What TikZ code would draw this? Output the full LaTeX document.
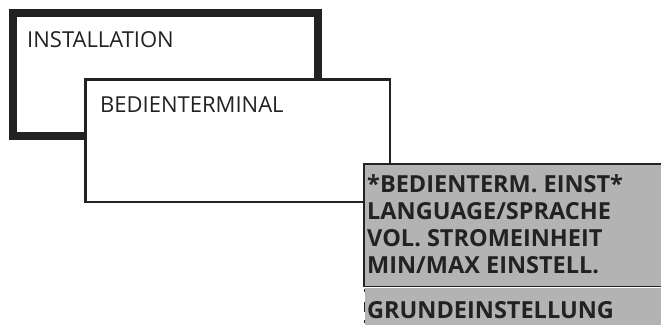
\documentclass[tikz,border=0pt]{standalone}
\usepackage{fontspec}
\setmainfont{Open Sans}
\usepackage{xcolor}
\usepackage{tikz}
\usetikzlibrary{positioning}

\definecolor{ink}{HTML}{222222}
\definecolor{menugray}{HTML}{B3B3B3}

\begin{document}
\begin{tikzpicture}[
    x=1pt, y=-1pt,
    panel/.style={rectangle, draw=ink, inner sep=0pt, outer sep=0pt, minimum width=304.5pt, minimum height=122.5pt},
    mainpanel/.style={panel, line width=8pt},
    subpanel/.style={panel, fill=white, line width=2.5pt},
    menupanel/.style={rectangle, fill=menugray, inner sep=0pt, outer sep=0pt, minimum width=336pt, minimum height=122.5pt},
    restpanel/.style={rectangle, fill=menugray, inner sep=0pt, outer sep=0pt, minimum width=335pt, minimum height=52pt},
    edge/.style={draw=ink, line width=1.8pt},
    title/.style={anchor=base west, inner sep=0pt, text=ink, font=\fontsize{22}{26}\selectfont},
    entry/.style={anchor=base west, inner sep=0pt, text=ink, font=\fontsize{23.5}{27}\selectfont\bfseries}
]
    \useasboundingbox (0,0) rectangle (661,324);
    \clip (0,0) rectangle (661,324);
    \fill[white] (0,0) rectangle (661,324);

    % boxes, back to front
    \node[mainpanel] (inst) at (165.25,74.5) {};
    \node[subpanel] (term) at (237.75,140.75) {};
    \node[menupanel] (menu) at (532,225.25) {};
    \draw[edge] (menu.north east) -- (menu.north west) -- (menu.south west) -- (menu.south east);
    \node[restpanel] (rest) at (532.5,313.5) {};
    \draw[edge, dash pattern=on 3pt off 10pt on 10pt off 8pt] (rest.north west) ++(-0.5,1) coordinate (dashtop) -- (dashtop |- rest.south);

    % labels
    \node[title] (insttext) at (27,47) {INSTALLATION};
    \node[title] (termtext) at (100,112) {BEDIENTERMINAL};
    \foreach \txt [count=\i] in {*BEDIENTERM. EINST*, LANGUAGE/SPRACHE, VOL. STROMEINHEIT, MIN/MAX EINSTELL.}
        \node[entry] (item\i) at (367,164.7+27.3*\i) {\txt};
    \node[entry] (resttext) at (367,318) {GRUNDEINSTELLUNG};
\end{tikzpicture}
\end{document}
